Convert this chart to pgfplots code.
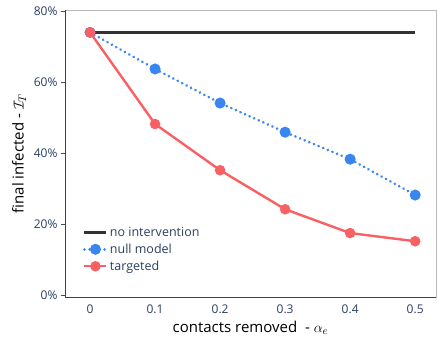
\documentclass[border=0pt]{standalone}
\usepackage{pgfplots}
\pgfplotsset{compat=1.18}
\usepackage{fontspec}
\setmainfont{Open Sans}
\definecolor{tickc}{HTML}{2A3F5F}
\definecolor{blk}{HTML}{333333}
\definecolor{blu}{HTML}{3A86F0}
\definecolor{redc}{HTML}{F96063}
\begin{document}
\begin{tikzpicture}[x=1bp,y=1bp]
\begin{axis}[
  scale only axis,
  width=371bp, height=287bp,
  xmin=-0.0385, xmax=0.532,
  ymin=-0.5, ymax=80.3,
  xtick={0,0.1,0.2,0.3,0.4,0.5},
  xticklabels={0,0.1,0.2,0.3,0.4,0.5},
  ytick={0,20,40,60,80},
  yticklabels={0\%,20\%,40\%,60\%,80\%},
  tick label style={font=\fontsize{12bp}{14bp}\selectfont, text=tickc},
  x tick style={draw=none},
  y tick style={draw=black!70, line width=0.8bp},
  tick align=outside,
  ytick pos=left,
  major tick length=4bp,
  axis line style={draw=gray!55, line width=0.8bp},
  xlabel={contacts removed\ \ - $\alpha_e$},
  ylabel={final infected - $\mathcal{I}_T$},
  label style={font=\fontsize{15bp}{17bp}\selectfont, text=black},
  xlabel style={yshift=-1bp},
  ylabel style={yshift=1bp},
  legend style={draw=none, fill=none, at={(0.04,0.258)}, anchor=north west,
    font=\fontsize{12.5bp}{14bp}\selectfont, text=tickc,
    row sep=2bp, legend cell align=left},
  legend image code/.code={
    \draw[#1, mark repeat=2, mark phase=2] plot coordinates {(0bp,0bp) (11bp,0bp) (22bp,0bp)};
  },
  clip=false,
  after end axis/.code={
    \draw[black!75, line width=0.9bp] (rel axis cs:0,1) -- (rel axis cs:0,0) -- (rel axis cs:1,0);
  },
]
\addplot[blk, line width=2.8bp, no markers] coordinates {
  (0,74) (0.5,74)
};
\addlegendentry{no intervention}
\addplot[blu, line width=2.9bp, line cap=round, dash pattern=on 0.01bp off 5bp, mark=*, mark size=4bp, mark options={solid, draw=none, fill=blu}] coordinates {
  (0,74) (0.1,63.7) (0.2,54.1) (0.3,45.9) (0.4,38.3) (0.5,28.2)
};
\addlegendentry{null model}
\addplot[redc, line width=2.4bp, mark=*, mark size=4bp, mark options={solid, draw=none, fill=redc}] coordinates {
  (0,74) (0.1,48.2) (0.2,35.2) (0.3,24.2) (0.4,17.5) (0.5,15.2)
};
\addlegendentry{targeted}
\end{axis}
\useasboundingbox ([shift={(-65bp,-46bp)}]current axis.south west) rectangle ([shift={(1bp,10bp)}]current axis.north east);
\end{tikzpicture}
\end{document}
